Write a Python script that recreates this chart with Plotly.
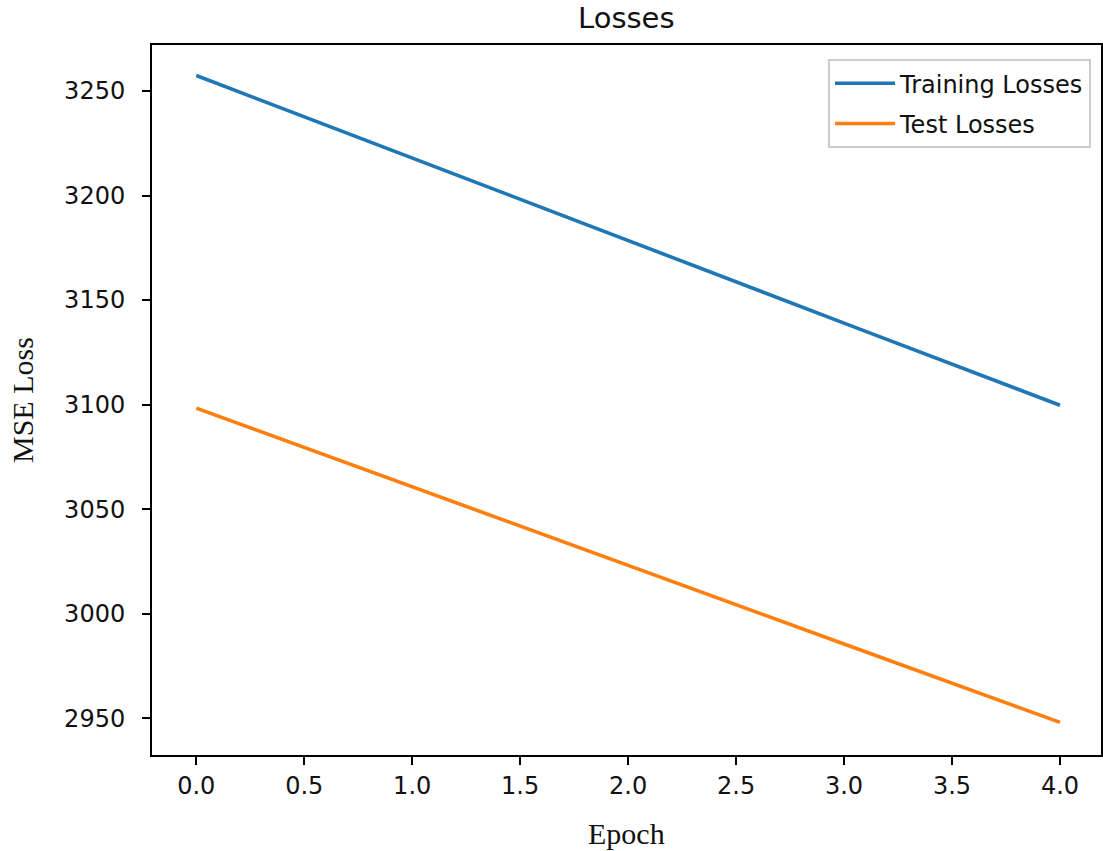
import plotly.graph_objects as go

epochs = [0, 1, 2, 3, 4]
training_losses = [3257.4, 3217.8, 3178.4, 3139.0, 3099.7]
test_losses = [3098.3, 3060.6, 3023.0, 2985.5, 2948.0]
x_ticks = [0.0, 0.5, 1.0, 1.5, 2.0, 2.5, 3.0, 3.5, 4.0]
y_ticks = [2950, 3000, 3050, 3100, 3150, 3200, 3250]

fig = go.Figure()
fig.add_trace(go.Scatter(x=epochs, y=training_losses, mode="lines", name="Training Losses",
                         legendgroup="a", line=dict(color="#1f77b4", width=3.6)))
fig.add_trace(go.Scatter(x=epochs, y=test_losses, mode="lines", name="Test Losses",
                         legendgroup="b", line=dict(color="#ff7f0e", width=3.6)))

axis_common = dict(showgrid=False, zeroline=False, showline=True, linecolor="black", linewidth=2,
                   mirror=True, ticks="outside", ticklen=8, tickwidth=2, tickcolor="black",
                   tickfont=dict(family="DejaVu Sans", size=24, color="#111111"))

fig.update_xaxes(range=[-0.205, 4.19], tickvals=x_ticks, ticktext=[f"{v:.1f}" for v in x_ticks], **axis_common)
fig.update_yaxes(range=[2932.4, 3272.0], tickvals=y_ticks, ticktext=[str(v) for v in y_ticks],
                 ticklabelstandoff=12, **axis_common)

fig.update_layout(
    width=1103, height=851,
    margin=dict(l=152, r=0, t=45, b=96),
    paper_bgcolor="white", plot_bgcolor="white",
    showlegend=True,
    legend=dict(x=0.9895, y=0.98, xanchor="right", yanchor="top",
                bgcolor="rgba(255,255,255,0.8)", bordercolor="#cccccc", borderwidth=2,
                itemwidth=60, tracegroupgap=6,
                font=dict(family="DejaVu Sans", size=24, color="#111111")),
    annotations=[
        dict(text="Losses", x=0.5, y=1, xref="paper", yref="paper", xanchor="center", yanchor="middle",
             yshift=27, showarrow=False, font=dict(family="DejaVu Sans", size=29, color="#111111")),
        dict(text="Epoch", x=0.5, y=0, xref="paper", yref="paper", xanchor="center", yanchor="middle",
             yshift=-78, showarrow=False, font=dict(family="Liberation Serif", size=30, color="#111111")),
        dict(text="MSE Loss", x=0, y=0.5, xref="paper", yref="paper", xanchor="center", yanchor="middle",
             xshift=-130, textangle=-90, showarrow=False,
             font=dict(family="Liberation Serif", size=30, color="#111111")),
    ],
)

fig.write_html("out.html", config={"displayModeBar": False},
               post_script="document.body.style.margin='0px';document.body.style.overflow='hidden';")
